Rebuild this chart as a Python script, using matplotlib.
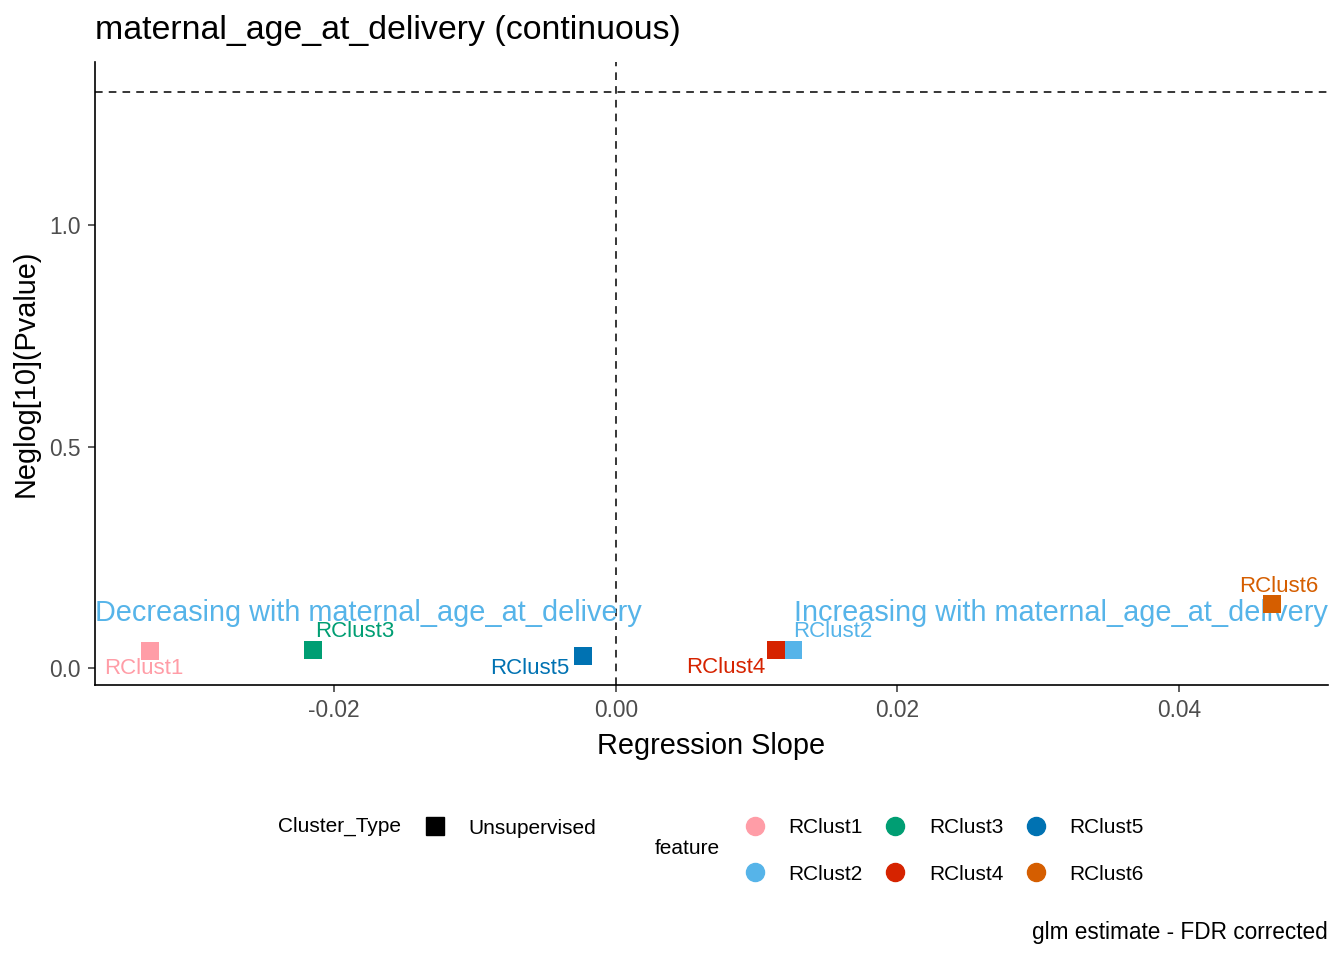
import matplotlib
matplotlib.use("Agg")
import matplotlib.pyplot as plt
from matplotlib.lines import Line2D
import numpy as np

plt.rcParams['font.family'] = ['Liberation Sans', 'DejaVu Sans']

# ---- data ----
features = ["RClust1", "RClust2", "RClust3", "RClust4", "RClust5", "RClust6"]
slopes = [-0.0331, 0.0126, -0.0215, 0.0114, -0.0023, 0.0466]
neglog_p = [0.038, 0.041, 0.041, 0.041, 0.027, 0.144]
colors = ["#FF9DA7", "#56B4E9", "#009E73", "#D62300", "#0072B2", "#D55E00"]
cluster_type = "Unsupervised"
sig_threshold = -np.log10(0.05)
annot_y = 0.124
title = "maternal_age_at_delivery (continuous)"
caption = "glm estimate - FDR corrected"
exposure = "maternal_age_at_delivery"

# label offsets in pixels (dx, dy, ha)
label_offsets = {
    "RClust1": (-6, -17, "center"),
    "RClust2": (0, 18, "left"),
    "RClust3": (2, 18, "left"),
    "RClust4": (-11, -18, "right"),
    "RClust5": (-14, -12, "right"),
    "RClust6": (7, 18, "center"),
}

fig = plt.figure(figsize=(13.44, 9.6), dpi=100)
ax = fig.add_axes([95/1344, 1-685/960, (1328-95)/1344, (685-62)/960])

ax.set_xlim(-0.037, 0.0506)
ax.set_ylim(-0.038, 1.368)

ax.axvline(0, color="black", lw=1.1, ls=(0, (5, 4)), zorder=1)
ax.axhline(sig_threshold, color="black", lw=1.1, ls=(0, (5, 4)), zorder=1)

for f, x, y, c in zip(features, slopes, neglog_p, colors):
    ax.scatter([x], [y], marker="s", s=185, color=c, zorder=3, linewidths=0)
    dx, dy, ha = label_offsets[f]
    ax.annotate(f, (x, y), xytext=(dx*0.72, dy*0.72), textcoords="offset points",
                ha=ha, va="center", color=c, fontsize=16, zorder=4)

tr = ax.get_yaxis_transform()
ax.text(0, annot_y, f"Decreasing with {exposure}", transform=tr, ha="left",
        va="center", color="#56B4E9", fontsize=20.8, zorder=2)
ax.text(1, annot_y, f"Increasing with {exposure}", transform=tr, ha="right",
        va="center", color="#56B4E9", fontsize=20.8, zorder=2)

for s in ["top", "right"]:
    ax.spines[s].set_visible(False)
for s in ["left", "bottom"]:
    ax.spines[s].set_linewidth(1.2)
    ax.spines[s].set_color("black")

ax.set_xticks([-0.02, 0.0, 0.02, 0.04])
ax.set_xticklabels(["-0.02", "0.00", "0.02", "0.04"])
ax.set_yticks([0.0, 0.5, 1.0])
ax.set_yticklabels(["0.0", "0.5", "1.0"])
ax.tick_params(axis="both", length=5, width=1.1, color="#333333",
               labelcolor="#4D4D4D", labelsize=16.4, pad=5)

ax.set_xlabel("Regression Slope", fontsize=20.8, labelpad=7)
ax.set_ylabel("Neglog[10](Pvalue)", fontsize=20.8, labelpad=7)
fig.text(95/1344, 1-31/960, title, fontsize=24.4, ha="left", va="center")
fig.text(1328/1344, 1-933/960, caption, fontsize=16.3, ha="right", va="center")

# legends
fig.text(278/1344, 1-826/960, "Cluster_Type", fontsize=15, ha="left", va="center")
leg1 = fig.legend([Line2D([], [], marker="s", ls="", color="black", ms=13)],
                  [cluster_type], loc="center left",
                  bbox_to_anchor=(404/1344, 1-828/960), frameon=False,
                  fontsize=15, handlelength=1.2, handletextpad=1.0)

fig.text(655/1344, 1-849/960, "feature", fontsize=15, ha="left", va="center")
handles = [Line2D([], [], marker="o", ls="", color=c, ms=13) for c in colors]
leg2 = fig.legend(handles, features, loc="center left", ncol=3,
                  bbox_to_anchor=(724/1344, 1-851/960), frameon=False,
                  fontsize=15, handlelength=1.2, handletextpad=1.0,
                  columnspacing=0.96, labelspacing=1.3)

fig.savefig("out.png", dpi=100)
